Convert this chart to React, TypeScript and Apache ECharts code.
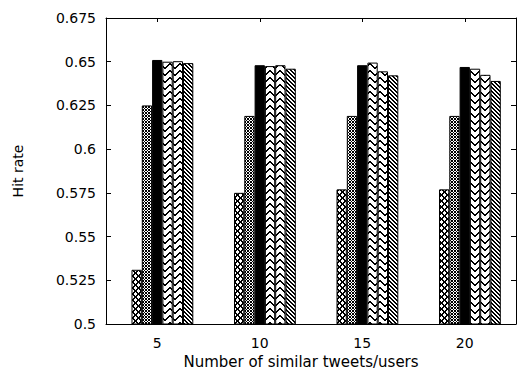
import React, { useEffect, useRef } from 'react';
import * as echarts from 'echarts';

const categories = ['5', '10', '15', '20'];
const seriesNames = ['M1', 'M2', 'M3', 'M4', 'M5', 'M6'];
const crossValues = [0.531, 0.575, 0.577, 0.577];
const denseValues = [0.625, 0.619, 0.619, 0.619];
const solidValues = [0.651, 0.648, 0.648, 0.647];
const chevronAValues = [0.650, 0.6475, 0.6495, 0.646];
const chevronBValues = [0.6503, 0.648, 0.6445, 0.6425];
const diagValues = [0.6492, 0.646, 0.6422, 0.639];
const yMin = 0.5;
const yMax = 0.675;
const yStep = 0.025;

const FONT = '"DejaVu Sans", sans-serif';

function tile(rows: string[]): HTMLCanvasElement {
  const h = rows.length;
  const w = rows[0].length;
  const c = document.createElement('canvas');
  c.width = w;
  c.height = h;
  const ctx = c.getContext('2d')!;
  ctx.fillStyle = '#ffffff';
  ctx.fillRect(0, 0, w, h);
  ctx.fillStyle = '#000000';
  rows.forEach((r, y) => {
    for (let x = 0; x < w; x++) if (r[x] === '#') ctx.fillRect(x, y, 1, 1);
  });
  return c;
}

export default function App() {
  const ref = useRef<HTMLDivElement>(null);
  useEffect(() => {
    const chart = echarts.init(ref.current!, undefined, { renderer: 'svg' });
    const crossTile = tile(['##...#', '.##.##', '..###.', '..###.', '.##.##', '##...#']);
    const denseTile = tile(['#..', '.##', '.##']);
    const chevTile = tile([
      '#........#',
      '##......##',
      '.##....##.',
      '..##..##..',
      '...####...',
      '....##....',
      '..........',
    ]);
    const diagTile = tile(['##..', '.##.', '..##', '#..#']);
    const fills: any[] = [
      { image: crossTile, repeat: 'repeat' },
      { image: denseTile, repeat: 'repeat' },
      '#000000',
      { image: chevTile, repeat: 'repeat' },
      { image: chevTile, repeat: 'repeat' },
      { image: diagTile, repeat: 'repeat' },
    ];
    const values = [crossValues, denseValues, solidValues, chevronAValues, chevronBValues, diagValues];
    const common = {
      type: 'bar',
      barWidth: 10.3,
      barGap: '0%',
      emphasis: { disabled: true },
      silent: true,
    };
    const series: any[] = [
      { ...common, name: 'gap', data: categories.map(() => '-') },
      ...values.map((v, i) => ({
        ...common,
        name: seriesNames[i],
        data: v,
        itemStyle: { color: fills[i], borderColor: '#000', borderWidth: 1 },
      })),
    ];
    const axisLine = { show: true, lineStyle: { color: '#000', width: 1 } };
    chart.setOption({
      animation: false,
      backgroundColor: '#fff',
      grid: { left: 106, right: 1, top: 18, bottom: 48 },
      xAxis: [
        {
          type: 'category',
          data: categories,
          position: 'bottom',
          axisLine,
          axisTick: { show: true, inside: true, alignWithLabel: true, length: 4, lineStyle: { color: '#000' } },
          axisLabel: { color: '#000', fontSize: 14, fontFamily: FONT, margin: 12 },
        },
        {
          type: 'category',
          data: categories,
          position: 'top',
          axisLine,
          axisTick: { show: true, inside: true, alignWithLabel: true, length: 4, lineStyle: { color: '#000' } },
          axisLabel: { show: false },
        },
      ],
      yAxis: [
        {
          type: 'value',
          min: yMin,
          max: yMax,
          interval: yStep,
          position: 'left',
          axisLine,
          axisTick: { show: true, inside: true, length: 5, lineStyle: { color: '#000' } },
          splitLine: { show: false },
          axisLabel: {
            color: '#000',
            fontSize: 14,
            fontFamily: FONT,
            margin: 10,
            formatter: (v: number) => String(parseFloat(v.toFixed(3))),
          },
        },
        {
          type: 'value',
          min: yMin,
          max: yMax,
          interval: yStep,
          position: 'right',
          axisLine,
          axisTick: { show: true, inside: true, length: 5, lineStyle: { color: '#000' } },
          splitLine: { show: false },
          axisLabel: { show: false },
        },
      ],
      graphic: [
        {
          type: 'text',
          x: 301,
          y: 362,
          style: {
            text: 'Number of similar tweets/users',
            fill: '#000',
            font: '15px ' + FONT,
            align: 'center',
            verticalAlign: 'middle',
          },
        },
        {
          type: 'text',
          x: 18,
          y: 171,
          rotation: Math.PI / 2,
          style: {
            text: 'Hit rate',
            fill: '#000',
            font: '14px ' + FONT,
            align: 'center',
            verticalAlign: 'middle',
          },
        },
      ],
      series,
    });
    return () => chart.dispose();
  }, []);
  return <div ref={ref} style={{ position: 'absolute', left: 0, top: 0, width: 517, height: 372 }} />;
}
